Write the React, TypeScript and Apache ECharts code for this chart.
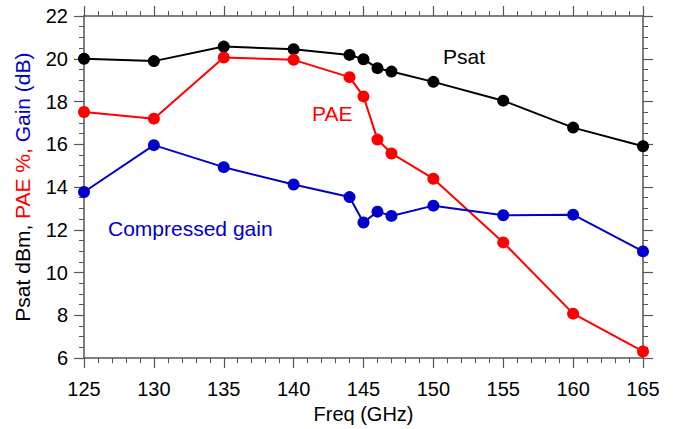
import React, { useEffect, useRef } from "react";
import * as echarts from "echarts";

const freqs = [125, 130, 135, 140, 144, 145, 146, 147, 150, 155, 160, 165];
const psat = [20.0, 19.89, 20.57, 20.45, 20.18, 19.98, 19.56, 19.4, 18.92, 18.04, 16.78, 15.91];
const pae = [17.51, 17.2, 20.06, 19.95, 19.14, 18.24, 16.22, 15.57, 14.39, 11.41, 8.08, 6.31];
const gain = [13.77, 15.96, 14.93, 14.12, 13.53, 12.34, 12.85, 12.65, 13.13, 12.68, 12.71, 10.99];

const FONT = "Liberation Sans, Arial, sans-serif";
const AXIS_COLOR = "#555";

export default function App() {
  const ref = useRef<HTMLDivElement>(null);
  useEffect(() => {
    if (!ref.current) return;
    const chart = echarts.init(ref.current, undefined, { renderer: "svg" });
    const pair = (ys: number[]) => freqs.map((f, i) => [f, ys[i]]);
    const axisLine = { show: true, onZero: false, lineStyle: { color: AXIS_COLOR, width: 1.5 } };
    const axisTick = { show: true, inside: false, length: 10, lineStyle: { color: AXIS_COLOR, width: 1.2 } };
    const series = (name: string, data: number[], color: string) => ({
      name,
      type: "line",
      data: pair(data),
      symbol: "circle",
      symbolSize: 12,
      itemStyle: { color },
      lineStyle: { color, width: 2 },
    });
    chart.setOption({
      animation: false,
      textStyle: { fontFamily: FONT },
      grid: { left: 84, right: 30, top: 16, bottom: 70 },
      xAxis: [
        {
          type: "value",
          min: 125,
          max: 165,
          interval: 5,
          position: "bottom",
          minorTick: { show: true, splitNumber: 5, length: 5, lineStyle: { color: AXIS_COLOR, width: 1 } },
          axisLine,
          axisTick,
          splitLine: { show: false },
          axisLabel: { fontSize: 20, color: "#000", margin: 21, fontFamily: FONT },
          name: "Freq (GHz)",
          nameLocation: "middle",
          nameGap: 45,
          nameTextStyle: { fontSize: 20, color: "#000", fontFamily: FONT },
        },
        {
          type: "value",
          min: 125,
          max: 165,
          interval: 5,
          position: "top",
          minorTick: { show: true, splitNumber: 5, length: 5, lineStyle: { color: AXIS_COLOR, width: 1 } },
          axisLine,
          axisTick,
          splitLine: { show: false },
          axisLabel: { show: false },
        },
      ],
      yAxis: [
        {
          type: "value",
          min: 6,
          max: 22,
          interval: 2,
          position: "left",
          minorTick: { show: true, splitNumber: 4, length: 5, lineStyle: { color: AXIS_COLOR, width: 1 } },
          axisLine,
          axisTick,
          splitLine: { show: false },
          axisLabel: { fontSize: 20, color: "#000", margin: 16, fontFamily: FONT },
          name: "{a|Psat dBm, }{b|PAE %, }{c|Gain (dB)}",
          nameLocation: "middle",
          nameGap: 51,
          nameRotate: 90,
          nameTextStyle: {
            fontSize: 21,
            fontFamily: FONT,
            rich: {
              a: { color: "#000", fontSize: 21, fontFamily: FONT },
              b: { color: "#ff0000", fontSize: 21, fontFamily: FONT },
              c: { color: "#0000cc", fontSize: 21, fontFamily: FONT },
            },
          },
        },
        {
          type: "value",
          min: 6,
          max: 22,
          interval: 2,
          position: "right",
          minorTick: { show: true, splitNumber: 4, length: 5, lineStyle: { color: AXIS_COLOR, width: 1 } },
          axisLine,
          axisTick,
          splitLine: { show: false },
          axisLabel: { show: false },
        },
      ],
      series: [
        series("Psat", psat, "#000000"),
        series("PAE", pae, "#ff0000"),
        series("Compressed gain", gain, "#0000cc"),
      ],
      graphic: [
        { type: "text", left: 443, top: 46, style: { text: "Psat", fontSize: 21, fill: "#000", fontFamily: FONT } },
        { type: "text", left: 312, top: 103, style: { text: "PAE", fontSize: 21, fill: "#ff0000", fontFamily: FONT } },
        { type: "text", left: 108, top: 218, style: { text: "Compressed gain", fontSize: 21, fill: "#0000cc", fontFamily: FONT } },
      ],
    });
    return () => chart.dispose();
  }, []);
  return <div ref={ref} style={{ width: 673, height: 429, position: "absolute", left: 0, top: 0 }} />;
}
